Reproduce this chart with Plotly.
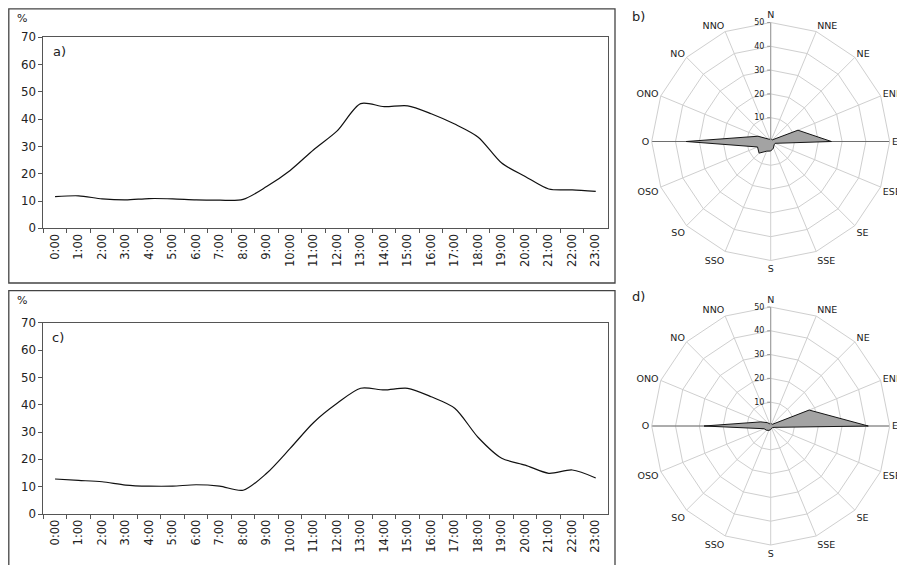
import plotly.graph_objects as go

W, H = 905, 565
OFF = 8  # page body margin of the browser

hours = ["0:00", "1:00", "2:00", "3:00", "4:00", "5:00", "6:00", "7:00",
         "8:00", "9:00", "10:00", "11:00", "12:00", "13:00", "14:00", "15:00",
         "16:00", "17:00", "18:00", "19:00", "20:00", "21:00", "22:00", "23:00"]

a_values = [11.6, 11.9, 10.8, 10.4, 10.9, 10.8, 10.4, 10.3, 10.6, 15.3, 21.2, 28.8,
            35.7, 45.7, 44.6, 44.9, 42.0, 38.2, 33.4, 23.9, 19.0, 14.4, 14.1, 13.5]

c_values = [12.8, 12.3, 11.8, 10.6, 10.2, 10.2, 10.7, 10.2, 8.7, 14.9, 24.0, 33.5,
            40.5, 46.0, 45.4, 46.0, 42.9, 38.7, 28.0, 20.4, 17.9, 14.9, 16.1, 13.2]

directions = ["N", "NNE", "NE", "ENE", "E", "ESE", "SE", "SSE",
              "S", "SSO", "SO", "OSO", "O", "ONO", "NO", "NNO"]

b_values = [1, 1, 1, 12.4, 25.5, 2, 2, 3, 4, 4.4, 6.9, 6, 35.5, 5.8, 1.5, 1]
d_values = [1, 1, 1, 17.5, 41, 1.5, 1, 1, 1.5, 2, 2.5, 3, 28, 4.5, 2, 1]

y_ticks = [0, 10, 20, 30, 40, 50, 60, 70]
r_ticks = [10, 20, 30, 40, 50]
axis_line_dirs = ["O", "E"]
axis_line_r = [50, 50]

FONT = "DejaVu Sans, Liberation Sans, Arial, sans-serif"
TXT = "#222222"


def px_x(v):
    return (v - OFF) / W


def px_y(v):
    return 1 - (v - OFF) / H


fig = go.Figure()

# line charts
fig.add_trace(go.Scatter(x=hours, y=a_values, mode="lines",
                         line=dict(color="#111111", width=1.2, shape="spline", smoothing=0.8),
                         xaxis="x", yaxis="y", showlegend=False, hoverinfo="skip"))
fig.add_trace(go.Scatter(x=hours, y=c_values, mode="lines",
                         line=dict(color="#111111", width=1.2, shape="spline", smoothing=0.8),
                         xaxis="x2", yaxis="y2", showlegend=False, hoverinfo="skip"))

# roses
for vals, sub in ((b_values, "polar"), (d_values, "polar2")):
    fig.add_trace(go.Scatterpolar(r=axis_line_r, theta=axis_line_dirs, mode="lines",
                                  line=dict(color="#555555", width=0.8),
                                  subplot=sub, showlegend=False, hoverinfo="skip"))
    fig.add_trace(go.Scatterpolar(r=vals + vals[:1], theta=directions + directions[:1],
                                  mode="lines", fill="toself", fillcolor="#a3a3a3",
                                  line=dict(color="#151515", width=1),
                                  subplot=sub, showlegend=False, hoverinfo="skip"))

xa = dict(type="category", categoryarray=hours, range=[-0.5, 23.5],
          showline=True, linecolor="#555555", linewidth=1, mirror=True,
          ticks="outside", tickson="boundaries", ticklen=4, tickcolor="#555555",
          tickangle=-90, tickfont=dict(family=FONT, size=11.5, color=TXT),
          showgrid=False, zeroline=False, fixedrange=True)
ya = dict(range=[0, 70], tickvals=y_ticks, showline=True, linecolor="#555555",
          linewidth=1, mirror=True, ticks="outside", ticklen=4, tickcolor="#555555",
          tickfont=dict(family=FONT, size=11.8, color=TXT), showgrid=False,
          zeroline=False, fixedrange=True)

xdom = [px_x(43.3), px_x(607.5)]

pol = dict(
    bgcolor="white", gridshape="linear",
    angularaxis=dict(rotation=90, direction="clockwise", type="category",
                     categoryarray=directions, showgrid=True, gridcolor="#cfcfcf",
                     gridwidth=1, showline=True, linecolor="#cfcfcf", linewidth=1,
                     ticks="", tickfont=dict(family=FONT, size=9.5, color=TXT)),
    radialaxis=dict(range=[0, 50], tickvals=r_ticks, angle=90, tickangle=90,
                    showline=True, linecolor="#9a9a9a", linewidth=1,
                    gridcolor="#cfcfcf", gridwidth=1, ticks="outside", ticklen=3,
                    tickcolor="#9a9a9a", side="counterclockwise",
                    tickfont=dict(family=FONT, size=8, color=TXT)),
)

cx, R = 770.7, 119
pol_b = dict(pol, domain=dict(x=[px_x(cx - R), px_x(cx + R)],
                              y=[px_y(141.5 + R), px_y(141.5 - R)]))
pol_d = dict(pol, domain=dict(x=[px_x(cx - R), px_x(cx + R)],
                              y=[px_y(426 + R), px_y(426 - R)]))


def label(text, x, y, size):
    return dict(text=text, x=px_x(x), y=px_y(y), xref="paper", yref="paper",
                xanchor="center", yanchor="middle", showarrow=False,
                font=dict(family=FONT, size=size, color=TXT))


fig.update_layout(
    width=W, height=H, margin=dict(l=0, r=0, t=0, b=0, autoexpand=False),
    paper_bgcolor="white", plot_bgcolor="white",
    font=dict(family=FONT, color=TXT),
    xaxis=dict(xa, domain=xdom, anchor="y"),
    yaxis=dict(ya, domain=[px_y(228.3), px_y(37.3)], anchor="x"),
    xaxis2=dict(xa, domain=xdom, anchor="y2"),
    yaxis2=dict(ya, domain=[px_y(514), px_y(322.7)], anchor="x2"),
    polar=pol_b, polar2=pol_d,
    shapes=[
        dict(type="rect", xref="paper", yref="paper", x0=px_x(8.8), x1=px_x(615),
             y0=px_y(283), y1=px_y(8.8), line=dict(color="#444444", width=1.3)),
        dict(type="rect", xref="paper", yref="paper", x0=px_x(8.8), x1=px_x(615),
             y0=px_y(600), y1=px_y(290.7), line=dict(color="#444444", width=1.3)),
    ],
    annotations=[
        label("%", 22, 18, 11),
        label("a)", 59, 52, 13),
        label("%", 22, 300, 11),
        label("c)", 58, 337, 13),
        label("b)", 638, 17, 13),
        label("d)", 638, 296, 13),
    ],
)

fig.write_html("out.html")
